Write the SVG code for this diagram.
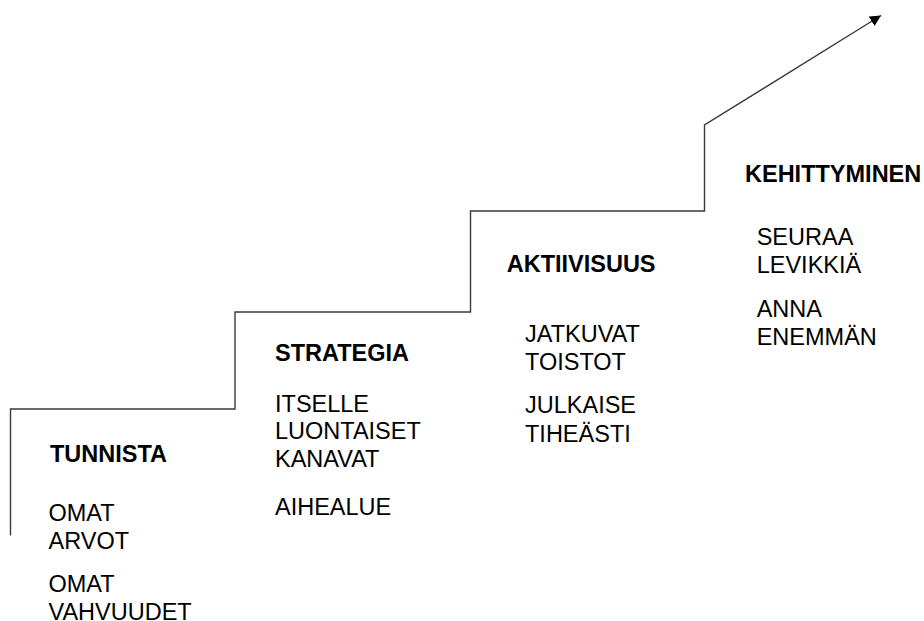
<svg xmlns="http://www.w3.org/2000/svg" width="924" height="621" viewBox="0 0 924 621">
<defs>
<style>
text{font-family:"Liberation Sans",Arial,sans-serif;font-size:23.5px;fill:#000}
.h{font-weight:bold}
.ln{fill:none;stroke:#3a3a3a;stroke-width:1.4}
</style>
<marker id="ah" viewBox="0 0 10 10" refX="10" refY="5" markerWidth="11" markerHeight="11" markerUnits="userSpaceOnUse" orient="auto">
<path d="M0,0 L10,5 L0,10 Z" fill="#000"/>
</marker>
</defs>
<rect width="924" height="621" fill="#fff"/>
<g id="connectors">
<path class="ln" d="M10.5,535.5 V409 H235 V312 H470.5 V211 H704.5 V125 L881,15.5" marker-end="url(#ah)"/>
</g>
<g id="tunnista">
<text class="h" x="50" y="462">TUNNISTA</text>
<text x="48.5" y="521">OMAT</text>
<text x="48.5" y="548.5">ARVOT</text>
<text x="48.5" y="592">OMAT</text>
<text x="48.5" y="620">VAHVUUDET</text>
</g>
<g id="strategia">
<text class="h" x="275" y="361">STRATEGIA</text>
<text x="275" y="411.7">ITSELLE</text>
<text x="275" y="438.5">LUONTAISET</text>
<text x="275" y="466.5">KANAVAT</text>
<text x="275" y="515">AIHEALUE</text>
</g>
<g id="aktiivisuus">
<text class="h" x="506.7" y="271.7">AKTIIVISUUS</text>
<text x="525" y="341.7">JATKUVAT</text>
<text x="525" y="370">TOISTOT</text>
<text x="525" y="413.3">JULKAISE</text>
<text x="525" y="441.7">TIHEÄSTI</text>
</g>
<g id="kehittyminen">
<text class="h" x="745" y="182.3">KEHITTYMINEN</text>
<text x="756.7" y="245">SEURAA</text>
<text x="756.7" y="273.3">LEVIKKIÄ</text>
<text x="756.7" y="316.7">ANNA</text>
<text x="756.7" y="345">ENEMMÄN</text>
</g>
</svg>
